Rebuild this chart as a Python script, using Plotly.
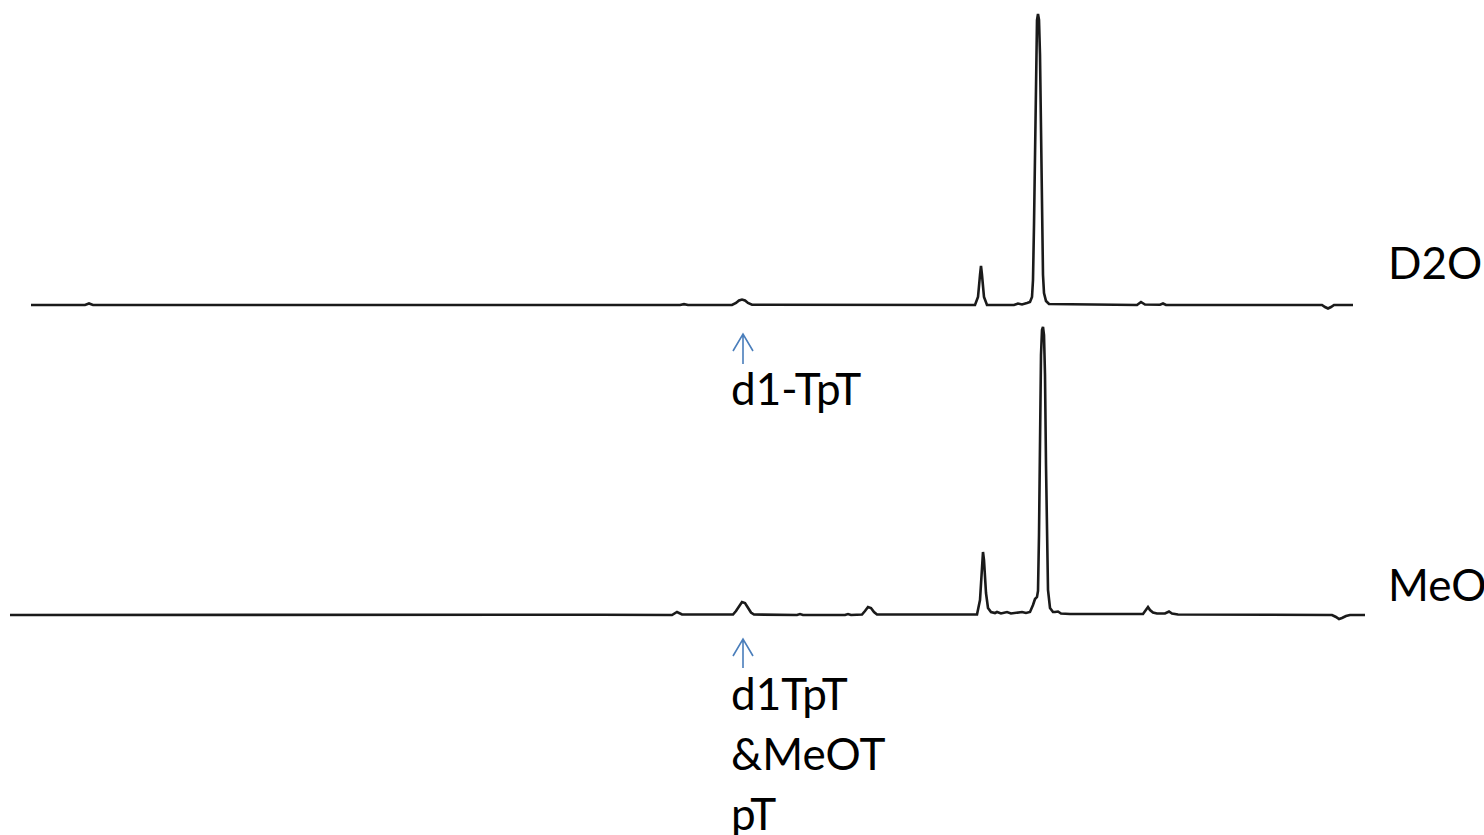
import plotly.graph_objects as go

# ---- Data: spectrum vertices (x position, intensity above baseline) ----
d2o_x = [31, 85, 89, 93, 680, 684, 688, 732, 736, 739, 742, 745, 748, 752,
         975, 978, 980, 981, 982, 984, 987,
         1014, 1018, 1022, 1027, 1030, 1032, 1033, 1034, 1035, 1036, 1037, 1038,
         1039, 1040, 1041, 1042, 1043, 1044, 1046, 1049,
         1137, 1141, 1145, 1160, 1163, 1166, 1322, 1325, 1328, 1331, 1334, 1353]
d2o_y = [0, 0, 1.5, 0, 0, 0.8, 0, 0, 2, 4.5, 5.5, 4.5, 2, 0.3,
         0, 8, 30, 39, 30, 8, 0,
         0, 1.5, 0.5, 2, 3, 8, 25, 80, 170, 250, 285, 291,
         285, 250, 170, 80, 30, 12, 4, 1,
         0, 3, 0.5, 0.3, 1.5, 0, 0, -2, -3.5, -2, 0, 0]

meo_x = [10, 200, 400, 600, 672, 677, 682, 733, 736, 739, 742, 745, 748, 751, 754,
         797, 800, 803, 845, 848, 851, 862, 865, 868, 871, 874, 877,
         977, 980, 982, 983, 984, 986, 988, 991, 995, 997, 1001, 1007, 1011,
         1018, 1022, 1026, 1030, 1033, 1035, 1037, 1038, 1039, 1040, 1041, 1042, 1043,
         1044, 1045, 1046, 1047, 1048, 1050, 1053, 1055, 1058, 1061, 1070,
         1143, 1146, 1148, 1150, 1153, 1157, 1165, 1169, 1172, 1178,
         1332, 1336, 1339, 1342, 1346, 1350, 1365]
meo_y = [0, 0.3, 0, 0.3, 0, 3, 0.5, 0.5, 4, 9, 13, 12, 7, 2.5, 0.5,
         0, 1, 0, 0, 1, 0, 0.5, 4, 8, 7, 3, 0.5,
         0.5, 15, 50, 63, 55, 22, 7, 3, 2, 3, 1.5, 3, 1.5,
         2, 3, 2, 3, 10, 16, 18, 24, 80, 180, 260, 285, 288,
         280, 240, 150, 70, 25, 7, 3, 3, 3.5, 1.5, 1,
         1, 6, 8, 5, 2.5, 1.5, 1.5, 3.5, 1.5, 0.5,
         0, -2, -4, -3, -1, 0, 0]

trace_names = ["D2O", "MeO"]
peak_labels_top = ["d1-TpT"]
peak_labels_bottom = ["d1TpT", "&MeOT", "pT"]

# ---- layout constants (pixel-like units; y axis up, 0..835) ----
W, H = 1484, 835
top_base = H - 305
bot_base = H - 615

fig = go.Figure()
line_style = dict(color="#1a1a1a", width=2.6)
fig.add_trace(go.Scatter(x=d2o_x, y=[v + top_base for v in d2o_y], mode="lines",
                         line=line_style, name=trace_names[0], hoverinfo="skip"))
fig.add_trace(go.Scatter(x=meo_x, y=[v + bot_base for v in meo_y], mode="lines",
                         line=line_style, name=trace_names[1], hoverinfo="skip"))

font = dict(family="Lato, Carlito, 'Liberation Sans', sans-serif", size=44, color="black")
ann = []
# sample labels
ann.append(dict(x=1386, y=H - 262, text=trace_names[0], showarrow=False,
                xanchor="left", yanchor="middle", font=font))
ann.append(dict(x=1386, y=H - 584, text=trace_names[1], showarrow=False,
                xanchor="left", yanchor="middle", font=font))
# peak labels
ann.append(dict(x=729, y=H - 388, text=peak_labels_top[0], showarrow=False,
                xanchor="left", yanchor="middle", font=font))
for i, t in enumerate(peak_labels_bottom):
    ann.append(dict(x=729, y=H - (693 + 60 * i), text=t, showarrow=False,
                    xanchor="left", yanchor="middle", font=font))

# blue open arrows pointing up at the labelled peak
arrow_color = "#4A7EBB"
shapes = []
ax_ = 743
for tip, tail in [(334, 364), (639, 668)]:
    yt, yb = H - tip, H - tail
    path = (f"M {ax_},{yb} L {ax_},{yt} "
            f"M {ax_ - 10},{yt - 17} L {ax_},{yt} L {ax_ + 10},{yt - 17}")
    shapes.append(dict(type="path", path=path, xref="x", yref="y",
                       line=dict(color=arrow_color, width=1.6)))

fig.update_layout(
    width=W, height=H,
    margin=dict(l=0, r=0, t=0, b=0),
    paper_bgcolor="white", plot_bgcolor="white",
    showlegend=False,
    annotations=ann,
    shapes=shapes,
    xaxis=dict(range=[0, W], visible=False, fixedrange=True),
    yaxis=dict(range=[0, H], visible=False, fixedrange=True),
)
fig.write_html("out.html", config={"displayModeBar": False},
               post_script="document.body.style.margin='0';document.body.style.overflow='hidden';")
